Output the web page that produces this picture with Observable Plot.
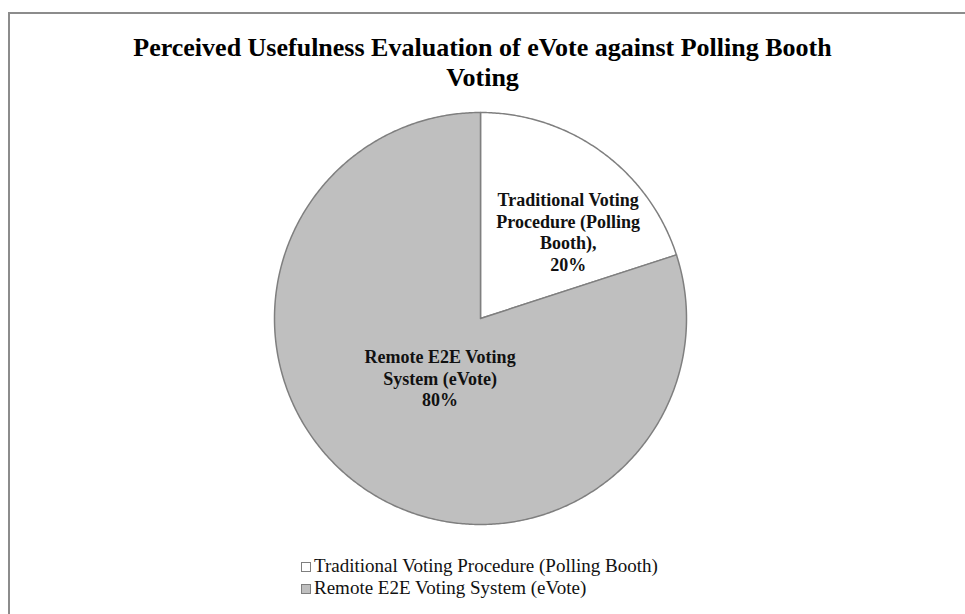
<!DOCTYPE html>
<html>
<head>
<meta charset="utf-8">
<script src="https://cdn.jsdelivr.net/npm/d3@7"></script>
<script src="https://cdn.jsdelivr.net/npm/@observablehq/plot@0.6"></script>
<style>
  html, body { margin: 0; padding: 0; background: #fff; width: 965px; height: 614px; overflow: hidden; }
  #frame { position: absolute; left: 8px; top: 12px; width: 1000px; height: 700px;
           border-top: 2px solid #8c8c8c; border-left: 2px solid #8c8c8c; }
  #title { position: absolute; left: 0; width: 965px; top: 33px; text-align: center;
           font-family: "Liberation Serif", "Times New Roman", serif; font-weight: bold;
           font-size: 26px; line-height: 30px; color: #000; }
  #chart { position: absolute; left: 0; top: 105px; }
  #legend { position: absolute; left: 301px; top: 555px;
            font-family: "Liberation Serif", "Times New Roman", serif; font-size: 19px;
            line-height: 22px; color: #111; }
  .row { display: flex; align-items: center; white-space: nowrap; height: 22px; }
  .sw { width: 8px; height: 8px; border: 1px solid #7f7f7f; margin-right: 3px; margin-top: 2px; }
</style>
</head>
<body>
<div id="frame"></div>
<div id="title">Perceived Usefulness Evaluation of eVote against Polling Booth<br>Voting</div>
<div id="chart"></div>
<div id="legend"></div>
<script>
// ---- data ----
const categories = ["Traditional Voting Procedure (Polling Booth)", "Remote E2E Voting System (eVote)"];
const shares = [20, 80];
const labelTexts = ["Traditional Voting\nProcedure (Polling\nBooth),\n20%", "Remote E2E Voting\nSystem (eVote)\n80%"];
const sliceColors = ["#ffffff", "#bfbfbf"];

// ---- build pie geometry from data ----
const rows = categories.map((c, i) => ({category: c, share: shares[i], label: labelTexts[i], i}));
const arcs = d3.pie().sort(null).value(d => d.share)(rows);

const outline = [];
arcs.forEach(a => {
  outline.push({category: a.data.category, x: 0, y: 0});
  const n = Math.max(2, Math.ceil((a.endAngle - a.startAngle) / (Math.PI / 360)));
  for (let k = 0; k <= n; k++) {
    const t = a.startAngle + (a.endAngle - a.startAngle) * k / n;
    outline.push({category: a.data.category, x: Math.sin(t), y: Math.cos(t)});
  }
  outline.push({category: a.data.category, x: 0, y: 0});
});

const labels = arcs.map(a => {
  const mid = (a.startAngle + a.endAngle) / 2;
  const r = a.data.share < 50 ? 0.6 : 0.35;
  return {label: a.data.label, x: r * Math.sin(mid), y: r * Math.cos(mid), i: a.data.i};
});

const W = 965, H = 430;
const cx = 480, cy = 318 - 105, R = 206;

const labelStyle = {x: "x", y: "y", text: "label", lineAnchor: "middle", lineHeight: 1.2,
  fontFamily: "Liberation Serif, Times New Roman, serif", fontWeight: "bold",
  fontSize: 18, fill: "#111"};

const plot = Plot.plot({
  width: W,
  height: H,
  marginLeft: cx - R,
  marginRight: W - (cx + R),
  marginTop: cy - R,
  marginBottom: H - (cy + R),
  x: {domain: [-1, 1], axis: null},
  y: {domain: [-1, 1], axis: null},
  color: {domain: categories, range: sliceColors},
  style: {background: "transparent"},
  marks: [
    Plot.line(outline, {x: "x", y: "y", z: "category", fill: "category",
      stroke: "#7f7f7f", strokeWidth: 1.5, strokeLinejoin: "round"}),
    Plot.text(labels.filter(d => d.i === 0), {...labelStyle, dx: 15, dy: 13}),
    Plot.text(labels.filter(d => d.i === 1), {...labelStyle, dx: 2, dy: 1})
  ]
});
document.getElementById("chart").appendChild(plot);

// ---- legend ----
const legend = d3.select("#legend");
categories.forEach((c, i) => {
  const row = legend.append("div").attr("class", "row");
  row.append("div").attr("class", "sw").style("background", sliceColors[i]);
  row.append("span").text(c);
});
</script>
</body>
</html>
